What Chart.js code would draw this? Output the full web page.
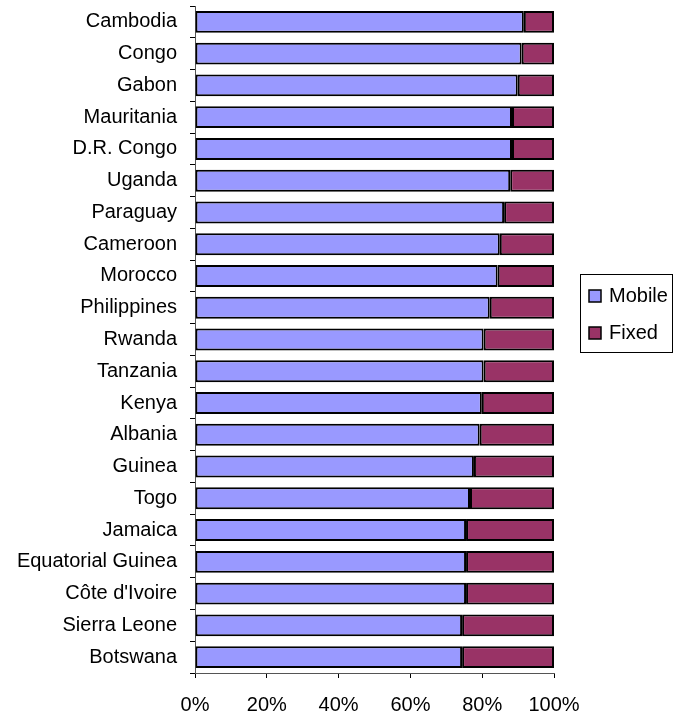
<!DOCTYPE html>
<html>
<head>
<meta charset="utf-8">
<script src="https://cdn.jsdelivr.net/npm/chart.js@4"></script>
<style>
  html, body { margin: 0; padding: 0; background: #fff; }
  #wrap { width: 678px; height: 715px; }
</style>
</head>
<body>
<div id="wrap"><canvas id="chart"></canvas></div>
<script>
const countries = [
  "Cambodia", "Congo", "Gabon", "Mauritania", "D.R. Congo", "Uganda", "Paraguay",
  "Cameroon", "Morocco", "Philippines", "Rwanda", "Tanzania", "Kenya", "Albania",
  "Guinea", "Togo", "Jamaica", "Equatorial Guinea", "Côte d'Ivoire", "Sierra Leone", "Botswana",
];
// share of subscriptions, in %
const mobile = [91.6, 91.0, 89.9, 88.3, 88.3, 87.8, 86.1, 84.9, 84.3, 82.1, 80.4,
  80.4, 79.9, 79.3, 77.7, 76.6, 75.5, 75.5, 75.5, 74.4, 74.4];
const fixed = [8.4, 9.0, 10.1, 11.7, 11.7, 12.2, 13.9, 15.1, 15.7, 17.9, 19.6,
  19.6, 20.1, 20.7, 22.3, 23.4, 24.5, 24.5, 24.5, 25.6, 25.6];
const seriesNames = ["Mobile", "Fixed"];
const seriesColors = ["#9999ff", "#993366"];

const FONT = "'Liberation Sans', Arial, sans-serif";

// boxed legend to the right of the plot
const boxLegend = {
  id: "boxLegend",
  afterDraw(chart) {
    const ctx = chart.ctx;
    const area = chart.chartArea;
    const x = area.right + 26;
    const y = 274;
    const w = 92;
    const h = 78;
    ctx.save();
    ctx.strokeStyle = "#000";
    ctx.lineWidth = 1;
    ctx.strokeRect(x + 0.5, y + 0.5, w, h);
    ctx.font = "20px " + FONT;
    ctx.textBaseline = "middle";
    ctx.textAlign = "left";
    chart.data.datasets.forEach((ds, i) => {
      const cy = y + 22 + i * 37;
      ctx.fillStyle = ds.backgroundColor;
      ctx.fillRect(x + 9, cy - 6, 12, 12);
      ctx.lineWidth = 1.5;
      ctx.strokeRect(x + 9, cy - 6, 12, 12);
      ctx.fillStyle = "#000";
      ctx.fillText(ds.label, x + 29, cy);
    });
    ctx.restore();
  },
};

new Chart(document.getElementById("chart"), {
  type: "bar",
  data: {
    labels: countries,
    datasets: [mobile, fixed].map((values, i) => ({
      label: seriesNames[i],
      data: values,
      backgroundColor: seriesColors[i],
      borderColor: "#000",
      borderWidth: 2,
      borderSkipped: false,
      barPercentage: 0.69,
      categoryPercentage: 1,
    })),
  },
  options: {
    indexAxis: "y",
    responsive: true,
    maintainAspectRatio: false,
    animation: false,
    layout: {
      padding: { top: 6, right: 124, bottom: 0, left: 0 },
    },
    plugins: {
      legend: { display: false },
      tooltip: { enabled: false },
    },
    scales: {
      x: {
        stacked: true,
        min: 0,
        max: 100,
        afterFit: (scale) => {
          scale.height = 42;
          scale.paddingLeft = 0;
          scale.paddingRight = 0;
        },
        ticks: {
          stepSize: 20,
          padding: 15,
          color: "#000",
          font: { family: FONT, size: 20 },
          callback: (v) => v + "%",
        },
        grid: {
          drawOnChartArea: false,
          drawTicks: true,
          tickLength: 5,
          color: "#000",
        },
        border: { color: "#555", width: 1 },
      },
      y: {
        stacked: true,
        afterFit: (scale) => {
          scale.width = 195;
          scale.paddingTop = 0;
          scale.paddingBottom = 0;
        },
        ticks: {
          padding: 13,
          color: "#000",
          font: { family: FONT, size: 20 },
        },
        grid: {
          drawOnChartArea: false,
          drawTicks: true,
          tickLength: 5,
          color: "#000",
        },
        border: { color: "#555", width: 1 },
      },
    },
  },
  plugins: [boxLegend],
});
</script>
</body>
</html>
